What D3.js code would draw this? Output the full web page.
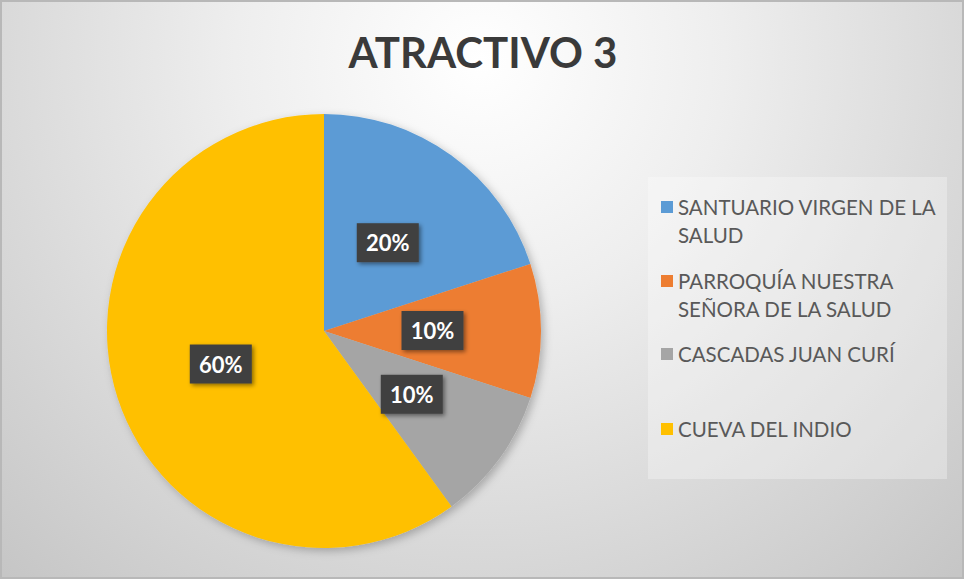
<!DOCTYPE html>
<html>
<head>
<meta charset="utf-8">
<script src="https://cdn.jsdelivr.net/npm/d3@7"></script>
<style>
  body { margin: 0; background: #fff; }
  svg { display: block; font-family: Lato, "Open Sans", sans-serif; }
</style>
</head>
<body>
<div id="chart"></div>
<script>
var width = 969, height = 579;

// data
var categories = ["SANTUARIO VIRGEN DE LA SALUD", "PARROQUÍA NUESTRA SEÑORA DE LA SALUD", "CASCADAS JUAN CURÍ", "CUEVA DEL INDIO"];
var legendLines = [["SANTUARIO VIRGEN DE LA", "SALUD"], ["PARROQUÍA NUESTRA", "SEÑORA DE LA SALUD"], ["CASCADAS JUAN CURÍ"], ["CUEVA DEL INDIO"]];
var values = [20, 10, 10, 60];
var colors = ["#5B9BD5", "#ED7D31", "#A5A5A5", "#FFC000"];

var cx = 324, cy = 331, radius = 217;

var svg = d3.select("#chart").append("svg")
    .attr("width", width)
    .attr("height", height);

var defs = svg.append("defs");
var bg = defs.append("radialGradient")
    .attr("id", "bg")
    .attr("gradientUnits", "userSpaceOnUse")
    .attr("cx", 480).attr("cy", 60).attr("r", 700);
bg.append("stop").attr("offset", "0").attr("stop-color", "#ffffff");
bg.append("stop").attr("offset", "0.35").attr("stop-color", "#eeeeee");
bg.append("stop").attr("offset", "1").attr("stop-color", "#c6c6c6");

var shadow = defs.append("filter").attr("id", "shadow")
    .attr("x", "-20%").attr("y", "-20%").attr("width", "150%").attr("height", "150%");
shadow.append("feDropShadow")
    .attr("dx", 2).attr("dy", 2).attr("stdDeviation", 2)
    .attr("flood-color", "#000").attr("flood-opacity", 0.45);

var pieShadow = defs.append("filter").attr("id", "pieShadow")
    .attr("x", "-10%").attr("y", "-10%").attr("width", "125%").attr("height", "125%");
pieShadow.append("feDropShadow")
    .attr("dx", 3).attr("dy", 3).attr("stdDeviation", 4)
    .attr("flood-color", "#000").attr("flood-opacity", 0.25);

// background + border
svg.append("rect")
    .attr("x", 1).attr("y", 1)
    .attr("width", width - 7).attr("height", height - 2)
    .attr("fill", "url(#bg)")
    .attr("stroke", "#b8b8b8")
    .attr("stroke-width", 2);

// title
svg.append("text")
    .attr("x", 483)
    .attr("y", 68)
    .attr("text-anchor", "middle")
    .style("font-size", "42px")
    .style("font-weight", "bold")
    .style("fill", "#3a3a3a")
    .text("ATRACTIVO 3");

// pie
var pie = d3.pie().sort(null).value(function(d) { return d; });
var arc = d3.arc().innerRadius(0).outerRadius(radius);
var labelArc = d3.arc().innerRadius(radius * 0.5).outerRadius(radius * 0.5);

var g = svg.append("g")
    .attr("transform", "translate(" + cx + "," + cy + ")");

g.append("g")
    .attr("filter", "url(#pieShadow)")
    .selectAll("path")
    .data(pie(values))
    .enter()
    .append("path")
    .attr("d", arc)
    .style("fill", function(d, i) { return colors[i]; });

var labels = g.selectAll(".lbl")
    .data(pie(values))
    .enter()
    .append("g")
    .attr("class", "lbl")
    .attr("transform", function(d) { return "translate(" + labelArc.centroid(d) + ")"; });

labels.append("rect")
    .attr("x", -31).attr("y", -20)
    .attr("width", 62).attr("height", 39)
    .style("fill", "#404040")
    .attr("filter", "url(#shadow)");

labels.append("text")
    .attr("y", 8)
    .attr("text-anchor", "middle")
    .style("font-size", "22px")
    .style("font-weight", "bold")
    .style("fill", "#fff")
    .text(function(d) { return d.data + "%"; });

// legend
svg.append("rect")
    .attr("x", 648).attr("y", 177)
    .attr("width", 299).attr("height", 302)
    .style("fill", "#ffffff")
    .style("fill-opacity", 0.3);

var legendY = [207, 281, 354, 429];
var legend = svg.append("g").selectAll("g")
    .data(categories)
    .enter()
    .append("g")
    .attr("transform", function(d, i) { return "translate(661," + legendY[i] + ")"; });

legend.append("rect")
    .attr("y", -6)
    .attr("width", 12)
    .attr("height", 12)
    .style("fill", function(d, i) { return colors[i]; });

legend.append("text")
    .attr("x", 17)
    .attr("y", 8)
    .style("font-size", "20.5px")
    .style("fill", "#595959")
    .selectAll("tspan")
    .data(function(d, i) { return legendLines[i]; })
    .enter()
    .append("tspan")
    .attr("x", 17)
    .attr("dy", function(d, j) { return j ? 28 : 0; })
    .text(function(d) { return d; });
</script>
</body>
</html>
